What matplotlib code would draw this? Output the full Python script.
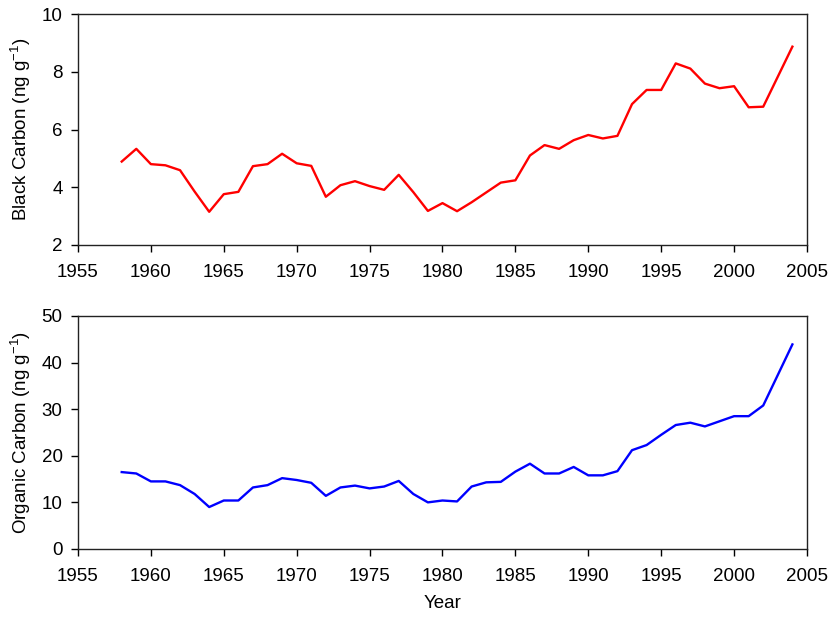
import matplotlib

matplotlib.use("Agg")

import matplotlib.pyplot as plt  # noqa: E402

plt.rcParams["font.family"] = ["Liberation Sans", "DejaVu Sans"]
plt.rcParams["mathtext.fontset"] = "custom"
plt.rcParams["mathtext.rm"] = "Liberation Sans"
plt.rcParams["mathtext.it"] = "Liberation Sans"

YEARS = [1958, 1959, 1960, 1961, 1962, 1963, 1964, 1965, 1966, 1967,
         1968, 1969, 1970, 1971, 1972, 1973, 1974, 1975, 1976, 1977,
         1978, 1979, 1980, 1981, 1982, 1983, 1984, 1985, 1986, 1987,
         1988, 1989, 1990, 1991, 1992, 1993, 1994, 1995, 1996, 1997,
         1998, 1999, 2000, 2001, 2002, 2004]

BLACK_CARBON = [4.89, 5.33, 4.80, 4.76, 4.59, 3.85, 3.15, 3.76, 3.84, 4.73,
                4.80, 5.16, 4.83, 4.74, 3.67, 4.07, 4.21, 4.04, 3.91, 4.43,
                3.83, 3.18, 3.45, 3.17, 3.48, 3.82, 4.16, 4.24, 5.10, 5.46,
                5.33, 5.63, 5.81, 5.69, 5.78, 6.88, 7.37, 7.37, 8.29, 8.11,
                7.59, 7.43, 7.50, 6.77, 6.79, 8.87]

ORGANIC_CARBON = [16.5, 16.2, 14.5, 14.5, 13.7, 11.8, 9.0, 10.4, 10.4, 13.2,
                  13.7, 15.2, 14.8, 14.2, 11.4, 13.2, 13.6, 13.0, 13.4, 14.6,
                  11.8, 10.0, 10.4, 10.2, 13.4, 14.3, 14.4, 16.6, 18.3, 16.2,
                  16.2, 17.6, 15.8, 15.8, 16.7, 21.2, 22.3, 24.5, 26.6, 27.1,
                  26.3, 27.4, 28.5, 28.5, 30.8, 43.9]

X_TICKS = [1955, 1960, 1965, 1970, 1975, 1980, 1985, 1990, 1995, 2000, 2005]
BC_TICKS = [2, 4, 6, 8, 10]
OC_TICKS = [0, 10, 20, 30, 40, 50]

FS = 13.5

fig = plt.figure(figsize=(8.34, 6.18), dpi=100)
ax1 = fig.add_axes([0.0935, 0.6036, 0.8741, 0.3737])
ax2 = fig.add_axes([0.0935, 0.1117, 0.8741, 0.3770])

panels = [
    (ax1, BLACK_CARBON, "#ff0000", BC_TICKS, "Black Carbon (ng g$^{-1}$)"),
    (ax2, ORGANIC_CARBON, "#0000ff", OC_TICKS, "Organic Carbon (ng g$^{-1}$)"),
]

for ax, values, color, yticks, ylabel in panels:
    ax.plot(YEARS, values, color=color, linewidth=1.7)
    ax.set_xlim(X_TICKS[0], X_TICKS[-1])
    ax.set_ylim(yticks[0], yticks[-1])
    ax.set_xticks(X_TICKS)
    ax.set_yticks(yticks)
    ax.tick_params(direction="out", length=5, width=1, labelsize=FS)
    ax.tick_params(axis="x", pad=9)
    ax.tick_params(axis="y", pad=6)
    ax.set_ylabel(ylabel, fontsize=FS, labelpad=6)
    for spine in ax.spines.values():
        spine.set_linewidth(1)
        spine.set_color("#222222")

ax2.set_xlabel("Year", fontsize=FS, labelpad=7)

fig.savefig("out.png", dpi=100)
